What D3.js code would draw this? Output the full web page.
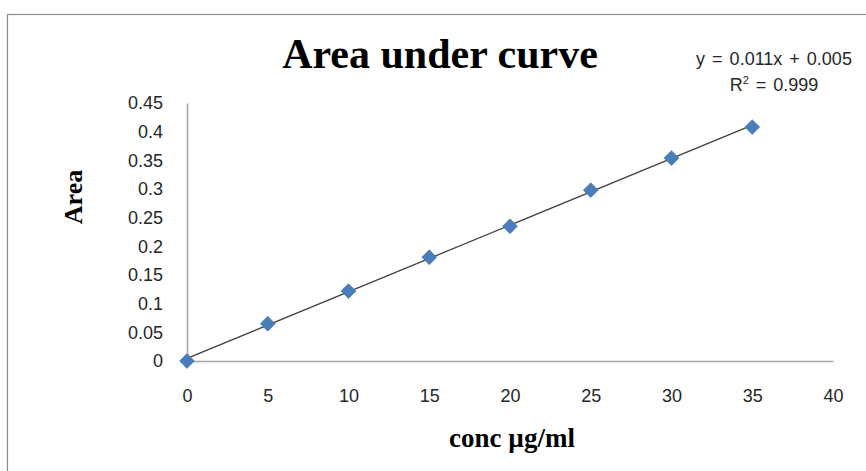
<!DOCTYPE html>
<html>
<head>
<meta charset="utf-8">
<script src="https://d3js.org/d3.v7.min.js"></script>
<style>
  body { margin: 0; background: #fff; }
  .tick text { font-family: "Liberation Sans", Arial, sans-serif; font-size: 18px; fill: #262626; }
</style>
</head>
<body>
<svg id="chart" width="866" height="471"></svg>
<script>
var conc = [0, 5, 10, 15, 20, 25, 30, 35];
var area = [0, 0.065, 0.122, 0.181, 0.235, 0.298, 0.354, 0.408];
var xTicks = [0, 5, 10, 15, 20, 25, 30, 35, 40];
var yTicks = [0, 0.05, 0.1, 0.15, 0.2, 0.25, 0.3, 0.35, 0.4, 0.45];

var svg = d3.select("#chart");

// outer chart border (cut off at right and bottom)
svg.append("rect")
  .attr("x", 7.5).attr("y", 14.5)
  .attr("width", 900).attr("height", 500)
  .attr("fill", "#fff")
  .attr("stroke", "#8c8c8c")
  .attr("stroke-width", 1.2);

var x = d3.scaleLinear().domain([0, 40]).range([187, 833]);
var y = d3.scaleLinear().domain([0, 0.45]).range([361, 103]);

var xAxis = svg.append("g")
  .attr("transform", "translate(0," + y(0) + ")")
  .call(d3.axisBottom(x).tickValues(xTicks).tickSize(0).tickPadding(28).tickFormat(d3.format("d")));
xAxis.select(".domain").attr("stroke", "#a6a6a6").attr("stroke-width", 1.5);

var yAxis = svg.append("g")
  .attr("transform", "translate(" + x(0) + ",0)")
  .call(d3.axisLeft(y).tickValues(yTicks).tickSize(0).tickPadding(24).tickFormat(function(d){ return d3.format("")(+d.toFixed(2)); }));
yAxis.select(".domain").attr("stroke", "#a6a6a6").attr("stroke-width", 1.5);

// linear trendline (least squares)
var mx = d3.mean(conc), my = d3.mean(area);
var slope = d3.sum(conc, function(c, i){ return (c - mx) * (area[i] - my); }) /
            d3.sum(conc, function(c){ return (c - mx) * (c - mx); });
var icpt = my - slope * mx;
var tx = d3.extent(conc);
svg.append("line")
  .attr("x1", x(tx[0])).attr("y1", y(slope * tx[0] + icpt))
  .attr("x2", x(tx[1])).attr("y2", y(slope * tx[1] + icpt))
  .attr("stroke", "#404040").attr("stroke-width", 1.3);

// diamond markers
svg.selectAll(".pt")
  .data(conc)
  .enter()
  .append("path")
    .attr("class", "pt")
    .attr("d", d3.symbol().type(d3.symbolDiamond2).size(140))
    .attr("transform", function(d, i){ return "translate(" + x(d) + "," + y(area[i]) + ")"; })
    .attr("fill", "#4a7ebb")
    .attr("stroke", "#3d6fad")
    .attr("stroke-width", 0.6);

// title
svg.append("text")
  .attr("x", 440).attr("y", 68)
  .attr("text-anchor", "middle")
  .style("font-family", "'Liberation Serif', 'Times New Roman', serif")
  .style("font-weight", "bold")
  .style("font-size", "42px")
  .text("Area under curve");

// axis titles
svg.append("text")
  .attr("transform", "translate(82,197) rotate(-90)")
  .attr("text-anchor", "middle")
  .style("font-family", "'Liberation Serif', 'Times New Roman', serif")
  .style("font-weight", "bold")
  .style("font-size", "26px")
  .text("Area");

svg.append("text")
  .attr("x", 512).attr("y", 447)
  .attr("text-anchor", "middle")
  .style("font-family", "'Liberation Serif', 'Times New Roman', serif")
  .style("font-weight", "bold")
  .style("font-size", "27px")
  .text("conc µg/ml");

// trendline equation
var eq = svg.append("g")
  .style("font-family", "'Liberation Sans', Arial, sans-serif")
  .style("font-size", "18px")
  .style("fill", "#262626");
eq.append("text")
  .attr("x", 774).attr("y", 65)
  .attr("text-anchor", "middle")
  .style("word-spacing", "2px")
  .text("y = 0.011x + 0.005");
var r2 = eq.append("text")
  .attr("x", 774).attr("y", 91)
  .attr("text-anchor", "middle")
  .style("word-spacing", "2px");
r2.append("tspan").text("R");
r2.append("tspan").attr("dy", -7).style("font-size", "11px").text("2");
r2.append("tspan").attr("dy", 7).text(" = 0.999");
</script>
</body>
</html>
